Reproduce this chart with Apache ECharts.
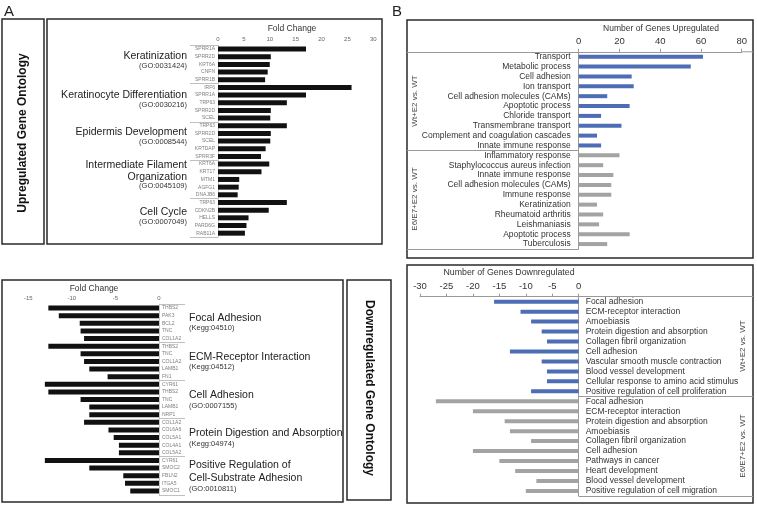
<!DOCTYPE html>
<html>
<head>
<meta charset="utf-8">
<script src="https://cdn.jsdelivr.net/npm/echarts@6/dist/echarts.min.js"></script>
<style>
  html, body { margin: 0; padding: 0; background: #fff; }
  #chart { width: 757px; height: 506px; }
</style>
</head>
<body>
<div id="chart"></div>
<script>
// ---- Panel A, upregulated GO terms (5 genes each) ----
const upTermNames = ['Keratinization', 'Keratinocyte Differentiation', 'Epidermis Development', 'Intermediate Filament\nOrganization', 'Cell Cycle']
const upTermIds = ['(GO:0031424)', '(GO:0030216)', '(GO:0008544)', '(GO:0045109)', '(GO:0007049)']
const upGenes = ['SPRR1A', 'SPRR2D', 'KRT6A', 'CNFN', 'SPRR1B',
  'IRF6', 'SPRR1A', 'TRP63', 'SPRR2D', 'SCEL',
  'TRP63', 'SPRR2D', 'SCEL', 'KRTDAP', 'SPRR3F',
  'KRT6A', 'KRT17', 'MTM1', 'AGFG1', 'DNAJB6',
  'TRP63', 'CDKN2B', 'HELLS', 'PARD6G', 'RAB11A']
const upFold = [17.0, 10.2, 10.0, 9.6, 9.1,
  25.8, 17.0, 13.3, 10.2, 10.1,
  13.3, 10.2, 10.1, 9.2, 8.3,
  9.9, 8.4, 4.1, 4.0, 3.8,
  13.3, 9.8, 5.9, 5.5, 5.2]

// ---- Panel A, downregulated terms ----
const downTermNames = ['Focal Adhesion', 'ECM-Receptor Interaction', 'Cell Adhesion', 'Protein Digestion and Absorption', 'Positive Regulation of\nCell-Substrate Adhesion']
const downTermIds = ['(Kegg:04510)', '(Kegg:04512)', '(GO:0007155)', '(Kegg:04974)', '(GO:0010811)']
const downGenes = ['THBS2', 'PAK3', 'BCL2', 'TNC', 'COL1A2',
  'THBS2', 'TNC', 'COL1A2', 'LAMB1', 'FN1',
  'CYR61', 'THBS2', 'TNC', 'LAMB1', 'NRP1',
  'COL1A2', 'COL6A6', 'COL5A1', 'COL4A1', 'COL5A2',
  'CYR61', 'SMOC2', 'FBLN2', 'ITGA5', 'SMOC1']
const downFold = [-12.7, -11.5, -9.1, -9.0, -8.6,
  -12.7, -9.0, -8.6, -8.0, -5.9,
  -13.1, -12.7, -9.0, -8.0, -8.0,
  -8.6, -5.8, -5.2, -4.6, -4.6,
  -13.1, -8.0, -4.1, -3.9, -3.3]

// ---- Panel B, number of genes upregulated ----
const wtUpCats = ['Transport', 'Metabolic process', 'Cell adhesion', 'Ion transport', 'Cell adhesion molecules (CAMs)', 'Apoptotic process', 'Chloride transport', 'Transmembrane transport', 'Complement and coagulation cascades', 'Innate immune response']
const wtUpCounts = [61, 55, 26, 27, 14, 25, 11, 21, 9, 11]
const e6UpCats = ['Inflammatory response', 'Staphylococcus aureus infection', 'Innate immune response', 'Cell adhesion molecules (CAMs)', 'Immune response', 'Keratinization', 'Rheumatoid arthritis', 'Leishmaniasis', 'Apoptotic process', 'Tuberculosis']
const e6UpCounts = [20, 12, 17, 16, 16, 9, 12, 10, 25, 14]

// ---- Panel B, number of genes downregulated ----
const wtDownCats = ['Focal adhesion', 'ECM-receptor interaction', 'Amoebiasis', 'Protein digestion and absorption', 'Collagen fibril organization', 'Cell adhesion', 'Vascular smooth muscle contraction', 'Blood vessel development', 'Cellular response to amino acid stimulus', 'Positive regulation of cell proliferation']
const wtDownCounts = [-16, -11, -9, -7, -6, -13, -7, -6, -6, -9]
const e6DownCats = ['Focal adhesion', 'ECM-receptor interaction', 'Protein digestion and absorption', 'Amoebiasis', 'Collagen fibril organization', 'Cell adhesion', 'Pathways in cancer', 'Heart development', 'Blood vessel development', 'Positive regulation of cell migration']
const e6DownCounts = [-27, -20, -14, -13, -9, -20, -15, -12, -8, -10]

const FONT = '"Liberation Sans", Arial, sans-serif'
const BLUE = '#4d6db5'
const GRAY = '#a3a3a3'

const bUpCats = wtUpCats.concat(e6UpCats)
const bDownCats = wtDownCats.concat(e6DownCats)
const pad = n => new Array(n).fill(null)

// label placement for the term captions
const upTermY = [56, 95, 132, 171, 212]
const upIdY = [65.5, 104.5, 142, 186, 222]
const downTermY = [318, 357, 395, 433, 471.5]
const downIdY = [328, 367, 406, 444, 489]

const valueAxis = (grid, min, max, interval, extra) => Object.assign({
  type: 'value',
  gridIndex: grid,
  position: 'top',
  min, max, interval,
  splitLine: { show: false },
  axisLine: { show: false },
  axisTick: { show: false },
  axisLabel: { fontSize: 6, color: '#666', fontFamily: FONT, margin: 3 }
}, extra || {})

const catAxis = (grid, names, pos, every, tickLen, extra) => Object.assign({
  type: 'category',
  gridIndex: grid,
  position: pos,
  inverse: true,
  data: names.map((n, i) => 'c' + i),
  axisLine: { show: true, lineStyle: { color: '#c8c8c8', width: 1 } },
  axisTick: {
    show: true,
    length: tickLen,
    interval: i => i % every === 0,
    lineStyle: { color: '#c0c0c0', width: 1 }
  },
  axisLabel: {
    interval: 0,
    fontSize: 5,
    color: '#808080',
    fontFamily: FONT,
    margin: 3,
    formatter: (v, i) => names[i]
  }
}, extra || {})

const text = (str, x, y, opts) => ({
  type: 'text',
  x, y,
  silent: true,
  rotation: (opts && opts.rotation) || 0,
  style: Object.assign({
    text: str,
    fill: '#222',
    fontFamily: FONT,
    fontSize: 10,
    align: 'center',
    verticalAlign: 'middle',
    textAlign: 'center',
    textVerticalAlign: 'middle'
  }, (opts && opts.style) || {})
})

const box = (x, y, w, h) => ({
  type: 'rect',
  silent: true,
  shape: { x, y, width: w, height: h },
  style: { fill: 'none', stroke: '#2a2a2a', lineWidth: 1.5 }
})

const graphics = [
  box(2, 19, 42, 225),
  box(47, 19, 335, 225),
  box(2, 280, 341, 222),
  box(347, 280, 44, 220),
  box(407, 20, 346, 238),
  box(407, 265, 346, 238),
  { type: 'line', silent: true, shape: { x1: 741.7, y1: 51.8, x2: 753, y2: 51.8 }, style: { stroke: '#999', lineWidth: 1 } },
  text('A', 9, 12, { style: { fontSize: 15 } }),
  text('B', 397, 12, { style: { fontSize: 15 } }),
  text('Upregulated Gene Ontology', 23, 133, { rotation: Math.PI / 2, style: { fontSize: 12, fontWeight: 'bold', fill: '#111' } }),
  text('Downregulated Gene Ontology', 369, 388, { rotation: -Math.PI / 2, style: { fontSize: 12, fontWeight: 'bold', fill: '#111' } }),
  text('Fold Change', 292, 29, { style: { fontSize: 8.5, fill: '#333' } }),
  text('Fold Change', 94, 289, { style: { fontSize: 8.5, fill: '#333' } }),
  text('Number of Genes Upregulated', 661, 29, { style: { fontSize: 8.5, fill: '#333' } }),
  text('Number of Genes Downregulated', 509, 273, { style: { fontSize: 8.8, fill: '#333' } }),
  text('Wt+E2 vs. WT', 415, 101, { rotation: Math.PI / 2, style: { fontSize: 8, fill: '#444' } }),
  text('E6/E7+E2 vs. WT', 415, 199, { rotation: Math.PI / 2, style: { fontSize: 8, fill: '#444' } }),
  text('Wt+E2 vs. WT', 743, 346, { rotation: Math.PI / 2, style: { fontSize: 8, fill: '#444' } }),
  text('E6/E7+E2 vs. WT', 743, 446, { rotation: Math.PI / 2, style: { fontSize: 8, fill: '#444' } })
]

upTermNames.forEach((t, i) => {
  graphics.push(text(t, 187, upTermY[i], { style: { fontSize: 10.5, align: 'right', textAlign: 'right', lineHeight: 12 } }))
  graphics.push(text(upTermIds[i], 187, upIdY[i], { style: { fontSize: 7.5, align: 'right', textAlign: 'right', fill: '#333' } }))
})
downTermNames.forEach((t, i) => {
  graphics.push(text(t, 189, downTermY[i], { style: { fontSize: 10.5, align: 'left', textAlign: 'left', lineHeight: 13 } }))
  graphics.push(text(downTermIds[i], 189, downIdY[i], { style: { fontSize: 7.5, align: 'left', textAlign: 'left', fill: '#333' } }))
})

const bLabel = size => ({ fontSize: size, color: '#333', fontFamily: FONT })

const option = {
  animation: false,
  backgroundColor: '#fff',
  grid: [
    { left: 218, top: 45.2, width: 155.3, height: 191.8, outerBoundsMode: 'none' },
    { left: 28.3, top: 304.2, width: 130.7, height: 190.6, outerBoundsMode: 'none' },
    { left: 578.7, top: 51.8, width: 163, height: 197.2, outerBoundsMode: 'none' },
    { left: 420, top: 296.7, width: 158.7, height: 199.2, outerBoundsMode: 'none' }
  ],
  xAxis: [
    valueAxis(0, 0, 30, 5),
    valueAxis(1, -15, 0, 5),
    valueAxis(2, 0, 80, 20, {
      axisLine: { show: true, lineStyle: { color: '#999', width: 1 } },
      axisTick: { show: true, length: 3, lineStyle: { color: '#999' } },
      axisLabel: Object.assign(bLabel(9.5), { margin: 5 })
    }),
    valueAxis(3, -30, 0, 5, {
      axisLine: { show: true, lineStyle: { color: '#999', width: 1 } },
      axisTick: { show: true, length: 3, lineStyle: { color: '#999' } },
      axisLabel: Object.assign(bLabel(9.5), { margin: 5 })
    })
  ],
  yAxis: [
    catAxis(0, upGenes, 'left', 5, 28),
    catAxis(1, downGenes, 'right', 5, 26),
    catAxis(2, bUpCats, 'left', 10, 171.7, {
      axisLine: { show: true, lineStyle: { color: '#999', width: 1 } },
      axisTick: { show: true, length: 171.7, interval: i => i % 10 === 0, lineStyle: { color: '#999' } },
      axisLabel: Object.assign(bLabel(8.5), { interval: 0, margin: 8, formatter: (v, i) => bUpCats[i] })
    }),
    catAxis(3, bDownCats, 'right', 10, 174.3, {
      axisLine: { show: true, lineStyle: { color: '#999', width: 1 } },
      axisTick: { show: true, length: 174.3, interval: i => i % 10 === 0, lineStyle: { color: '#999' } },
      axisLabel: Object.assign(bLabel(8.5), { interval: 0, margin: 7, formatter: (v, i) => bDownCats[i] })
    })
  ],
  series: [
    { type: 'bar', xAxisIndex: 0, yAxisIndex: 0, data: upFold, barWidth: 5, itemStyle: { color: '#111' }, silent: true },
    { type: 'bar', xAxisIndex: 1, yAxisIndex: 1, data: downFold, barWidth: 5, itemStyle: { color: '#111' }, silent: true },
    { type: 'bar', xAxisIndex: 2, yAxisIndex: 2, data: wtUpCounts.concat(pad(10)), barWidth: 4, barGap: '-100%', itemStyle: { color: BLUE }, silent: true },
    { type: 'bar', xAxisIndex: 2, yAxisIndex: 2, data: pad(10).concat(e6UpCounts), barWidth: 4, barGap: '-100%', itemStyle: { color: GRAY }, silent: true },
    { type: 'bar', xAxisIndex: 3, yAxisIndex: 3, data: wtDownCounts.concat(pad(10)), barWidth: 4, barGap: '-100%', itemStyle: { color: BLUE }, silent: true },
    { type: 'bar', xAxisIndex: 3, yAxisIndex: 3, data: pad(10).concat(e6DownCounts), barWidth: 4, barGap: '-100%', itemStyle: { color: GRAY }, silent: true }
  ],
  graphic: graphics
}

const chart = echarts.init(document.getElementById('chart'), null, { renderer: 'canvas' })
chart.setOption(option)
</script>
</body>
</html>
